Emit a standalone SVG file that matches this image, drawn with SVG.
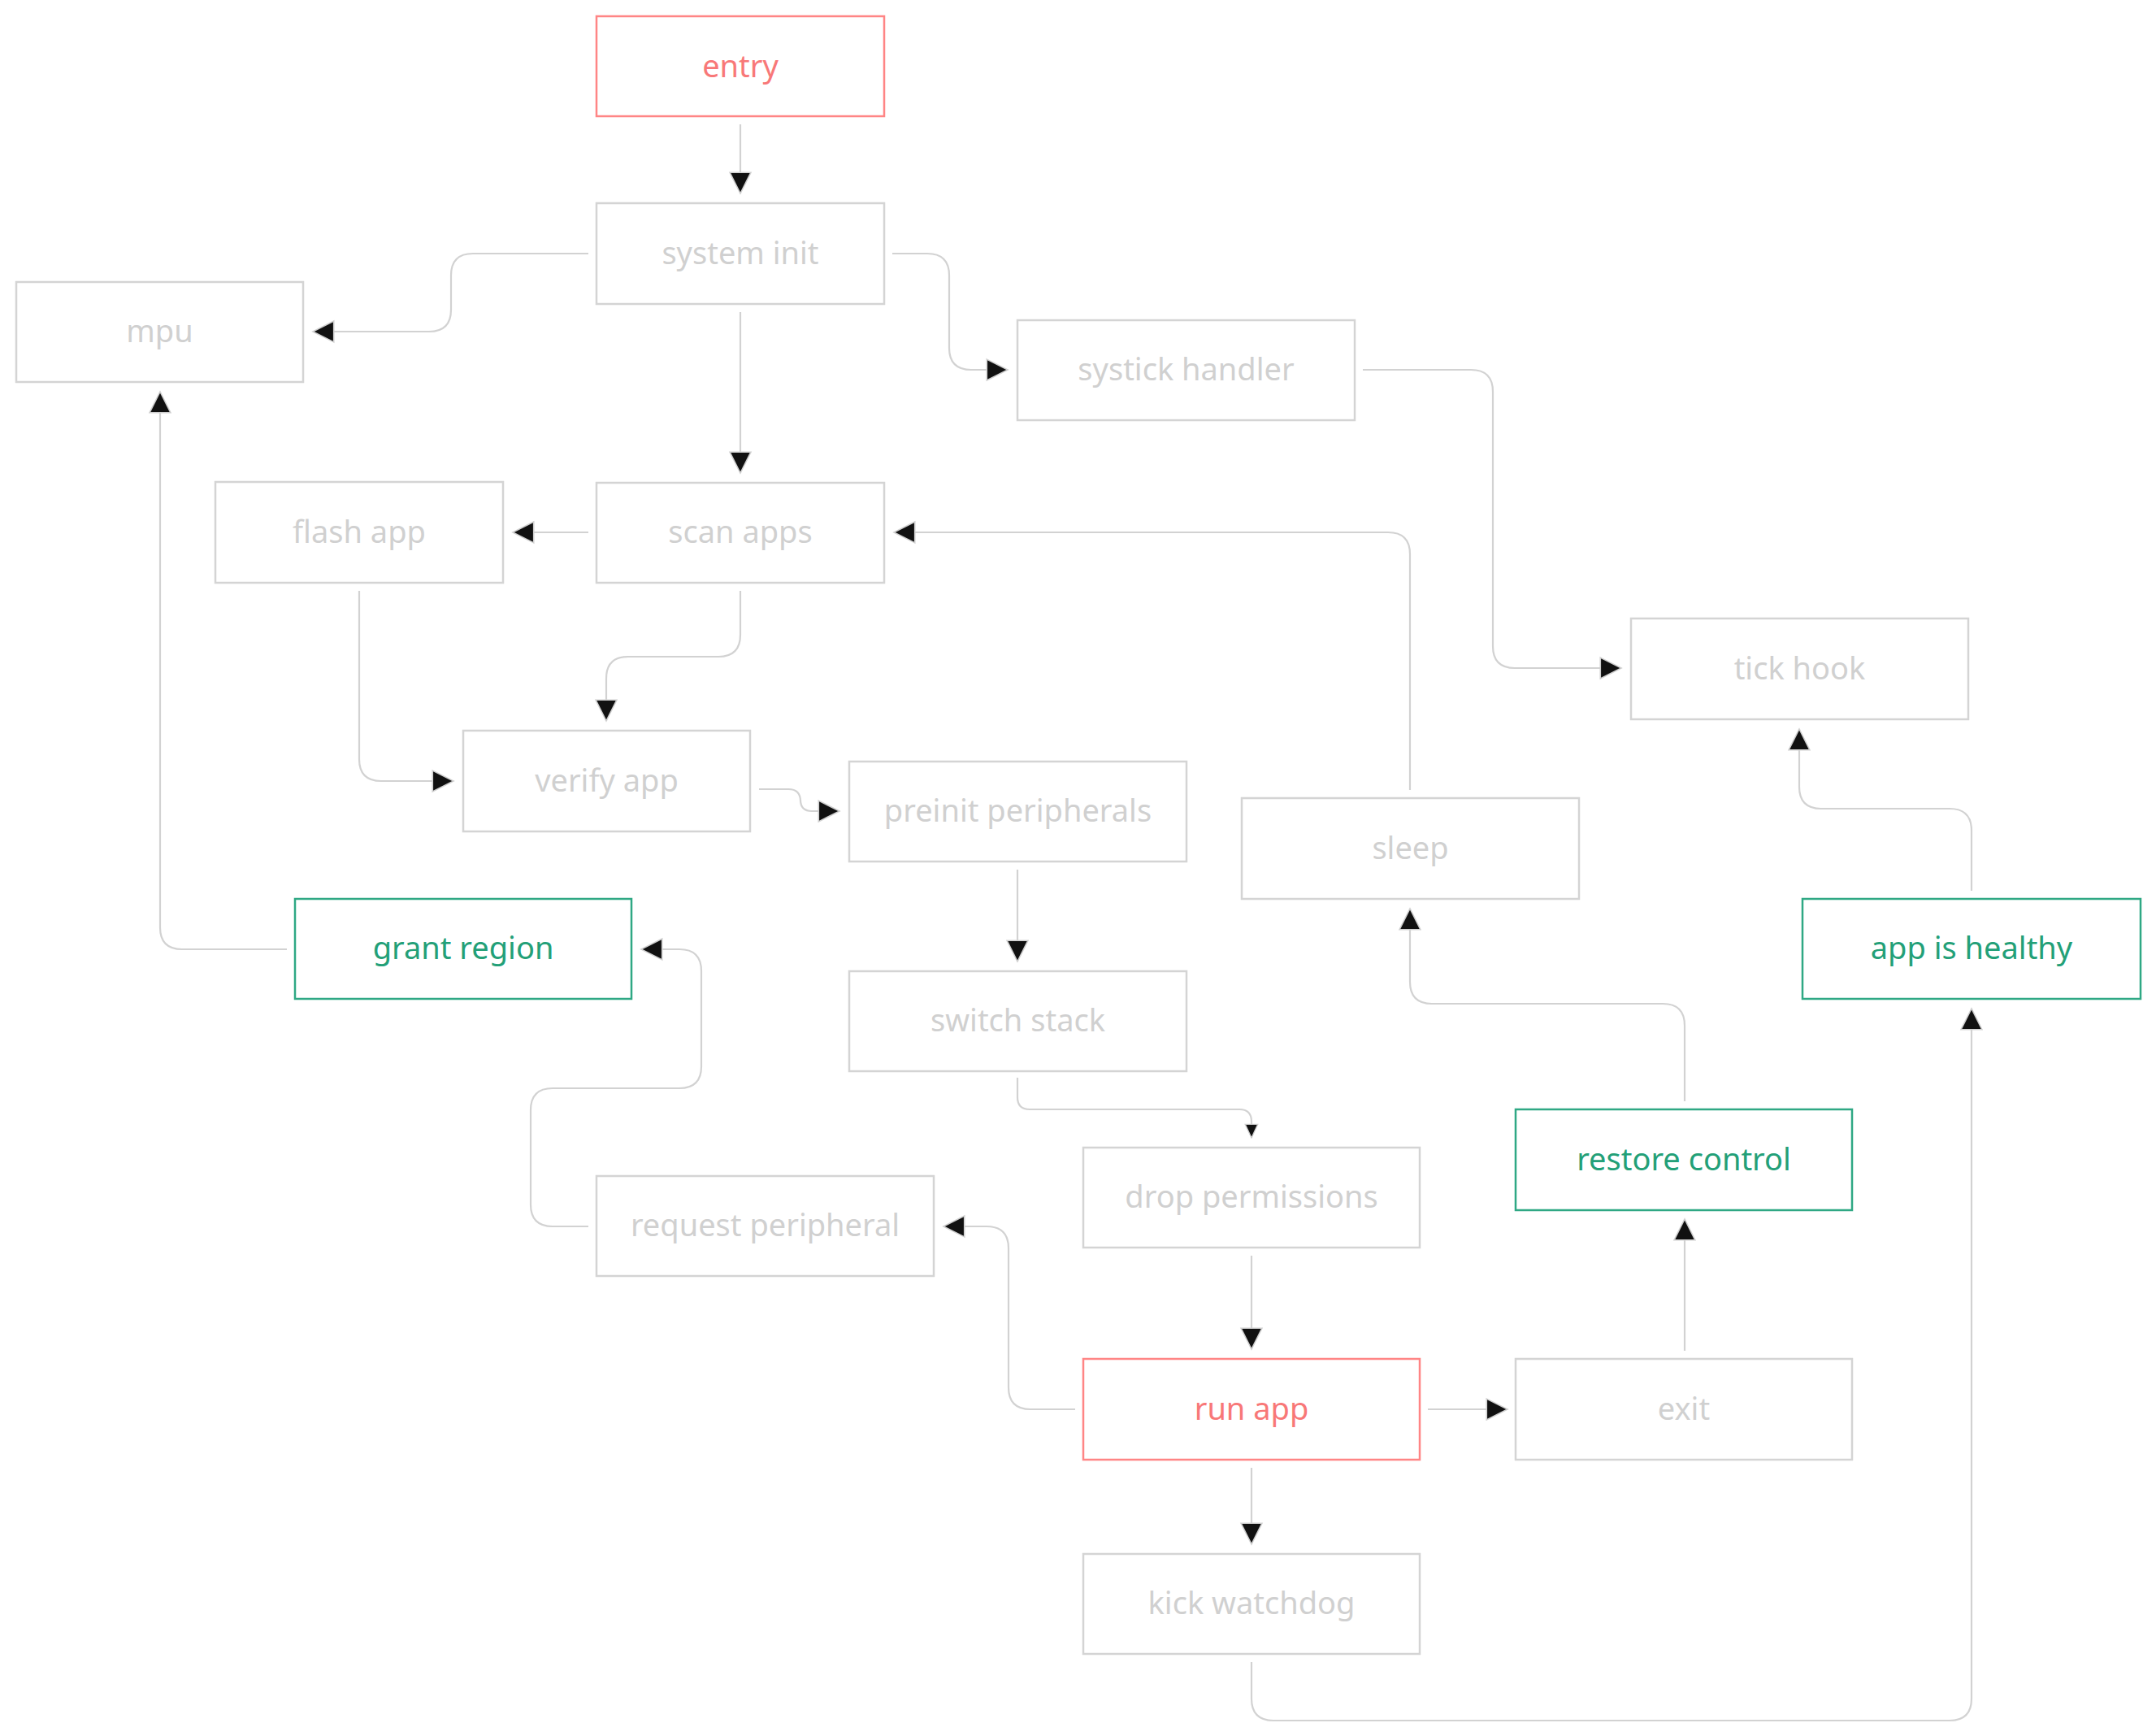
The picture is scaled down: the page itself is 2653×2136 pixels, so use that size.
<svg xmlns="http://www.w3.org/2000/svg" width="2653" height="2136" viewBox="0 0 2653 2136">
<defs>
<style>
.n rect{fill:#fff;stroke:#d4d4d4;stroke-width:2.5}
.n text{font-family:"Noto Sans","Open Sans",sans-serif;font-size:38px;fill:#d0d0d0;text-anchor:middle}
.r rect{stroke:#ff8585}
.r text{fill:#f87878}
.g rect{stroke:#2fa884}
.g text{fill:#23a078}
#edges path{fill:none;stroke:#d2d2d2;stroke-width:2.2}
</style>
<marker id="a" markerUnits="userSpaceOnUse" markerWidth="30" markerHeight="30" viewBox="-2 -2 28 28" refX="24" refY="12" orient="auto">
<path d="M0,0 L24,12 L0,24 z" fill="#111" stroke="#cfcfcf" stroke-width="1.5"/>
</marker>
<marker id="s" markerUnits="userSpaceOnUse" markerWidth="20" markerHeight="20" viewBox="-2 -2 18 18" refX="15" refY="7" orient="auto">
<path d="M0,0 L15,7 L0,14 z" fill="#111" stroke="#cfcfcf" stroke-width="1.2"/>
</marker>
</defs>
<rect width="2653" height="2136" fill="#fff"/>
<g id="edges">
<path d="M911,153 V238" marker-end="url(#a)"/>
<path d="M724,312 H582 Q555,312 555,339 V381 Q555,408 528,408 H385" marker-end="url(#a)"/>
<path d="M911,384 V582" marker-end="url(#a)"/>
<path d="M1098,312 H1141 Q1168,312 1168,339 V428 Q1168,455 1195,455 H1240" marker-end="url(#a)"/>
<path d="M1677,455 H1810 Q1837,455 1837,482 V795 Q1837,822 1864,822 H1995" marker-end="url(#a)"/>
<path d="M724,655 H631" marker-end="url(#a)"/>
<path d="M1735,972 V682 Q1735,655 1708,655 H1100" marker-end="url(#a)"/>
<path d="M911,727 V781 Q911,808 884,808 H773 Q746,808 746,835 V887" marker-end="url(#a)"/>
<path d="M442,727 V934 Q442,961 469,961 H558" marker-end="url(#a)"/>
<path d="M934,971 H970 Q985,971 985,986 V984 Q985,998 999,998 H1033" marker-end="url(#a)"/>
<path d="M1252,1070 V1183" marker-end="url(#a)"/>
<path d="M1252,1326 V1350 Q1252,1365 1267,1365 H1525 Q1540,1365 1540,1380 V1400" marker-end="url(#s)"/>
<path d="M1540,1545 V1660" marker-end="url(#a)"/>
<path d="M1757,1734 H1855" marker-end="url(#a)"/>
<path d="M2073,1662 V1500" marker-end="url(#a)"/>
<path d="M2073,1355 V1262 Q2073,1235 2046,1235 H1762 Q1735,1235 1735,1208 V1118" marker-end="url(#a)"/>
<path d="M2426,1096 V1022 Q2426,995 2399,995 H2241 Q2214,995 2214,968 V897" marker-end="url(#a)"/>
<path d="M1323,1734 H1268 Q1241,1734 1241,1707 V1536 Q1241,1509 1214,1509 H1161" marker-end="url(#a)"/>
<path d="M724,1509 H680 Q653,1509 653,1482 V1366 Q653,1339 680,1339 H836 Q863,1339 863,1312 V1195 Q863,1168 836,1168 H789" marker-end="url(#a)"/>
<path d="M353,1168 H224 Q197,1168 197,1141 V482" marker-end="url(#a)"/>
<path d="M1540,1806 V1900" marker-end="url(#a)"/>
<path d="M1540,2045 V2090 Q1540,2117 1567,2117 H2399 Q2426,2117 2426,2090 V1241" marker-end="url(#a)"/>
</g>
<g id="entry" class="n r"><rect x="734" y="20" width="354" height="123"/><text x="911" y="95">entry</text></g>
<g id="system-init" class="n"><rect x="734" y="250" width="354" height="124"/><text x="911" y="325">system init</text></g>
<g id="mpu" class="n"><rect x="20" y="347" width="353" height="123"/><text x="196.5" y="421">mpu</text></g>
<g id="systick-handler" class="n"><rect x="1252" y="394" width="415" height="123"/><text x="1459.5" y="468">systick handler</text></g>
<g id="flash-app" class="n"><rect x="265" y="593" width="354" height="124"/><text x="442" y="668">flash app</text></g>
<g id="scan-apps" class="n"><rect x="734" y="594" width="354" height="123"/><text x="911" y="668">scan apps</text></g>
<g id="tick-hook" class="n"><rect x="2007" y="761" width="415" height="124"/><text x="2214.5" y="836">tick hook</text></g>
<g id="verify-app" class="n"><rect x="570" y="899" width="353" height="124"/><text x="746.5" y="974">verify app</text></g>
<g id="preinit-peripherals" class="n"><rect x="1045" y="937" width="415" height="123"/><text x="1252.5" y="1011">preinit peripherals</text></g>
<g id="sleep" class="n"><rect x="1528" y="982" width="415" height="124"/><text x="1735.5" y="1057">sleep</text></g>
<g id="grant-region" class="n g"><rect x="363" y="1106" width="414" height="123"/><text x="570" y="1180">grant region</text></g>
<g id="app-is-healthy" class="n g"><rect x="2218" y="1106" width="416" height="123"/><text x="2426" y="1180">app is healthy</text></g>
<g id="switch-stack" class="n"><rect x="1045" y="1195" width="415" height="123"/><text x="1252.5" y="1269">switch stack</text></g>
<g id="restore-control" class="n g"><rect x="1865" y="1365" width="414" height="124"/><text x="2072" y="1440">restore control</text></g>
<g id="drop-permissions" class="n"><rect x="1333" y="1412" width="414" height="123"/><text x="1540" y="1486">drop permissions</text></g>
<g id="request-peripheral" class="n"><rect x="734" y="1447" width="415" height="123"/><text x="941.5" y="1521">request peripheral</text></g>
<g id="run-app" class="n r"><rect x="1333" y="1672" width="414" height="124"/><text x="1540" y="1747">run app</text></g>
<g id="exit" class="n"><rect x="1865" y="1672" width="414" height="124"/><text x="2072" y="1747">exit</text></g>
<g id="kick-watchdog" class="n"><rect x="1333" y="1912" width="414" height="123"/><text x="1540" y="1986">kick watchdog</text></g>
</svg>
